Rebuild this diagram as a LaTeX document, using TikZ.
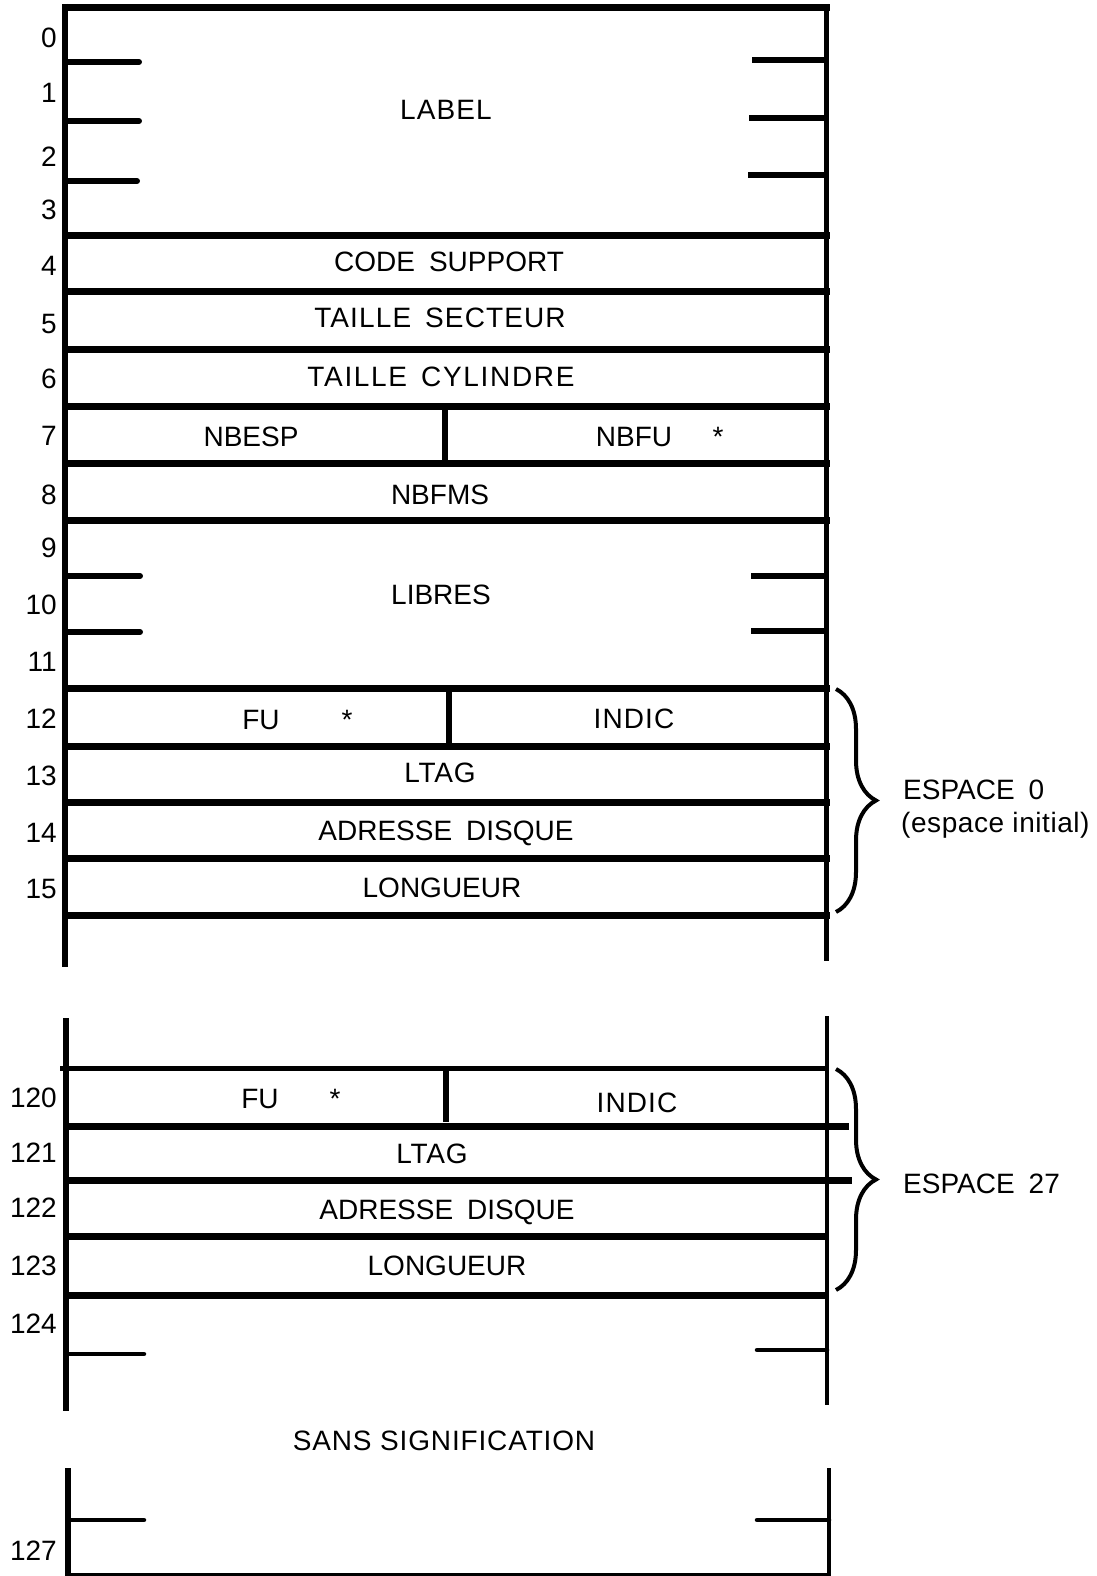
\documentclass[tikz,border=0pt]{standalone}
\usepackage{fontspec}
\setmainfont{Liberation Sans}
\usetikzlibrary{decorations.pathreplacing}
\newcommand\fs{\fontsize{28}{32}\selectfont}
\newcommand\wg{\hspace{14pt}}
\newcommand\lsp[1]{\addfontfeature{LetterSpace=#1}}
\begin{document}
\begin{tikzpicture}[x=1pt,y=-1pt,
  rule/.style={line width=7pt},
  thinrule/.style={line width=5pt},
  side/.style={line width=5.5pt},
  thinside/.style={line width=3.5pt},
  tck/.style={line width=6pt,line cap=round},
  rtck/.style={line width=6pt},
  btck/.style={line width=4.5pt,line cap=round},
  fld/.style={font=\fs,inner sep=0pt,anchor=base},
  idx/.style={font=\fs,inner sep=0pt,anchor=base east},
  note/.style={font=\fs,inner sep=0pt,anchor=base west},
  brc/.style={decorate,decoration={brace,amplitude=40pt},line width=4pt}]
\useasboundingbox (0,0) rectangle (1096,1576);

% ---------- top section: frame ----------
\draw[side] (65,4) -- (65,967);
\draw[side] (826.5,4) -- (826.5,961);
\foreach \yy in {7.5,235,291,349,406,463,520,688,746,802,858,915}
  \draw[rule] (62,\yy) -- (830,\yy);
% dividers
\draw[side] (445,406) -- (445,463);
\draw[side] (449,688) -- (449,746);
% ticks LABEL
\draw[tck] (65,62) -- (139,62);
\draw[tck] (65,121) -- (139,121);
\draw[tck] (65,181) -- (137,181);
\draw[rtck] (752,60) -- (826,60);
\draw[rtck] (749,118) -- (826,118);
\draw[rtck] (748,175) -- (826,175);
% ticks LIBRES
\draw[tck] (65,576) -- (140,576);
\draw[tck] (65,632) -- (140,632);
\draw[rtck] (751,576) -- (826,576);
\draw[rtck] (751,631) -- (826,631);

% ---------- bottom section: frame ----------
\draw[side] (66,1018) -- (66,1411);
\draw[thinside] (827,1016) -- (827,1405);
\draw[thinrule] (60,1068) -- (827,1068);
\draw[rule] (65,1126) -- (849,1126);
\draw[rule] (65,1180) -- (852,1180);
\draw[rule] (65,1236) -- (827,1236);
\draw[rule] (64,1295) -- (827,1295);
\draw[side] (446,1068) -- (446,1122);
\draw[btck] (67,1354) -- (144,1354);
\draw[btck] (757,1350) -- (827,1350);
\draw[side] (68,1468) -- (68,1576);
\draw[thinside] (829,1468) -- (829,1576);
\draw[line width=3pt] (66,1574.5) -- (830,1574.5);
\draw[btck] (68,1520) -- (144,1520);
\draw[btck] (757,1520) -- (829,1520);

% ---------- row indices ----------
\node[idx] (n0) at (57,48) {0};
\node[idx] (n1) at (57,103) {1};
\node[idx] (n2) at (57,166) {2};
\node[idx] (n3) at (57,219) {3};
\node[idx] (n4) at (57,275) {4};
\node[idx] (n5) at (57,333) {5};
\node[idx] (n6) at (57,388) {6};
\node[idx] (n7) at (57,445) {7};
\node[idx] (n8) at (57,504) {8};
\node[idx] (n9) at (57,557) {9};
\node[idx] (n10) at (57,614) {10};
\node[idx] (n11) at (57,671) {11};
\node[idx] (n12) at (57,728) {12};
\node[idx] (n13) at (57,785) {13};
\node[idx] (n14) at (57,842) {14};
\node[idx] (n15) at (57,898) {15};
\node[idx] (n120) at (57,1107) {120};
\node[idx] (n121) at (57,1162) {121};
\node[idx] (n122) at (57,1217) {122};
\node[idx] (n123) at (57,1275) {123};
\node[idx] (n124) at (57,1333) {124};
\node[idx] (n127) at (57,1560) {127};

% ---------- fields ----------
\node[fld] (label) at (446,120) {\lsp{4}LABEL};
\node[fld] (code) at (449,271) {CODE\wg SUPPORT};
\node[fld] (tsect) at (440,327) {\lsp{4}TAILLE\wg SECTEUR};
\node[fld] (tcyl) at (441,386) {\lsp{6}TAILLE\wg CYLINDRE};
\node[fld] (nbesp) at (251,446) {NBESP};
\node[fld] (nbfu) at (634,446) {NBFU};
\node[fld] (st1) at (718,446) {*};
\node[fld] (nbfms) at (440,504) {NBFMS};
\node[fld] (libres) at (441,604) {LIBRES};
\node[fld] (fu0) at (261,729) {FU};
\node[fld] (st2) at (347,729) {*};
\node[fld] (indic0) at (634,728) {\lsp{4}INDIC};
\node[fld] (ltag0) at (440,782) {\lsp{3}LTAG};
\node[fld] (adr0) at (446,840) {ADRESSE\wg DISQUE};
\node[fld] (lng0) at (442,897) {LONGUEUR};

\node[fld] (fu27) at (260,1108) {FU};
\node[fld] (st3) at (335,1108) {*};
\node[fld] (indic27) at (637,1112) {\lsp{4}INDIC};
\node[fld] (ltag27) at (432,1163) {\lsp{3}LTAG};
\node[fld] (adr27) at (447,1219) {ADRESSE\wg DISQUE};
\node[fld] (lng27) at (447,1275) {LONGUEUR};
\node[fld] (sans) at (444,1450) {\lsp{3}SANS SIGNIFICATION};

% ---------- braces and notes ----------
\coordinate (b0t) at (836,689);
\coordinate (b0b) at (836,912);
\draw[brc] (b0t) -- (b0b);
\node[note] (esp0) at (903,799) {ESPACE\wg 0};
\node[note] (esp0b) at (901,832) {\lsp{2}(espace initial)};
\coordinate (b27t) at (836,1069);
\coordinate (b27b) at (836,1290);
\draw[brc] (b27t) -- (b27b);
\node[note] (esp27) at (903,1193) {ESPACE\wg 27};
\end{tikzpicture}
\end{document}
